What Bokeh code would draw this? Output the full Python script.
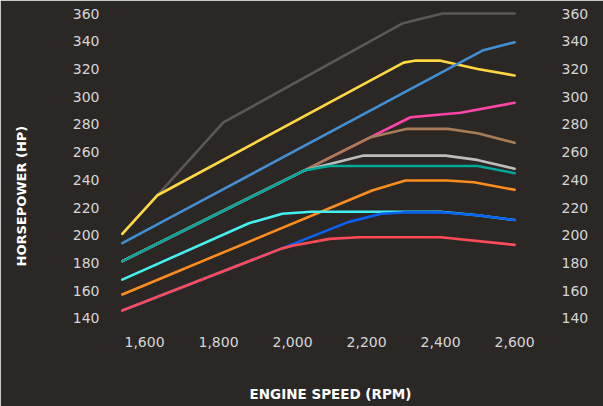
from bokeh.plotting import figure
from bokeh.models import Range1d, LinearAxis, FixedTicker, NumeralTickFormatter, Title
from bokeh.embed import file_html
from bokeh.resources import INLINE

# ---- data (rpm, horsepower) ----
gray_rpm = [1540, 1634, 1813, 2296, 2405, 2600]
gray_hp = [201, 228.7, 281.4, 352.8, 360, 360]

yellow_rpm = [1540, 1634, 2300, 2330, 2400, 2500, 2600]
yellow_hp = [201, 228.7, 324.6, 326, 326, 320, 315.3]

steel_rpm = [1540, 2513, 2600]
steel_hp = [194.3, 333.3, 339.3]

pink_rpm = [1540, 2031, 2211, 2319, 2454, 2600]
pink_hp = [181.3, 246.7, 270.8, 285.2, 288.4, 295.6]

brown_rpm = [1540, 2031, 2211, 2310, 2420, 2500, 2600]
brown_hp = [181.3, 246.7, 270.8, 276.8, 276.8, 273.6, 266.7]

silver_rpm = [1540, 2031, 2192, 2413, 2499, 2600]
silver_hp = [181.3, 246.7, 257.5, 257.5, 254.4, 248]

teal_rpm = [1540, 2031, 2100, 2500, 2600]
teal_hp = [181.3, 246.7, 250, 250, 244.8]

orange_rpm = [1540, 2215, 2305, 2418, 2490, 2600]
orange_hp = [157.3, 232.3, 239.5, 239.5, 238.3, 232.8]

cyan_rpm = [1540, 1882, 1972, 2050, 2400, 2500, 2600]
cyan_hp = [168, 208.7, 215.5, 217, 217, 214.5, 211]

blue_rpm = [1540, 1968, 2150, 2240, 2300, 2410, 2500, 2600]
blue_hp = [145.7, 190.2, 209.5, 215.5, 216.5, 216.5, 214.5, 211]

red_rpm = [1540, 1968, 2000, 2100, 2180, 2400, 2600]
red_hp = [145.7, 190.2, 192.5, 197.4, 198.6, 198.6, 193.1]

x_ticks = [1600, 1800, 2000, 2200, 2400, 2600]
y_ticks = [140, 160, 180, 200, 220, 240, 260, 280, 300, 320, 340, 360]

series = [
    (gray_rpm, gray_hp, "#595959"),
    (yellow_rpm, yellow_hp, "#ffd93f"),
    (steel_rpm, steel_hp, "#3f8fd2"),
    (pink_rpm, pink_hp, "#ff45a9"),
    (brown_rpm, brown_hp, "#a67d57"),
    (silver_rpm, silver_hp, "#bdbdbd"),
    (teal_rpm, teal_hp, "#00a89a"),
    (orange_rpm, orange_hp, "#ff8d1c"),
    (cyan_rpm, cyan_hp, "#45f0f0"),
    (blue_rpm, blue_hp, "#0a62f2"),
    (red_rpm, red_hp, "#ff4a57"),
]

BG = "#2b2725"
FONT = "DejaVu Sans"
TICK_COLOR = "#d6d6d6"

p = figure(width=603, height=406, output_backend="svg", toolbar_location=None,
           x_range=Range1d(1500, 2705), y_range=Range1d(131.3, 362.2),
           min_border_left=107, min_border_right=50, min_border_top=10, min_border_bottom=76,
           background_fill_color=BG, border_fill_color=BG,
           x_axis_location=None, y_axis_location=None)
p.outline_line_color = BG
p.outline_line_width = 3
p.grid.visible = False

for xs, ys, c in series:
    p.line(xs, ys, line_color=c, line_width=2.6, line_join="round", line_cap="round")

def style(ax):
    ax.axis_line_color = None
    ax.major_tick_line_color = None
    ax.minor_tick_line_color = None
    ax.major_tick_out = 0
    ax.major_tick_in = 0
    ax.major_label_text_font = FONT
    ax.major_label_text_font_size = "14px"
    ax.major_label_text_color = TICK_COLOR

xa = LinearAxis(ticker=FixedTicker(ticks=x_ticks), formatter=NumeralTickFormatter(format="0,0"))
style(xa)
xa.major_label_standoff = 6
xa.axis_label = "ENGINE SPEED (RPM)"
xa.axis_label_text_font = FONT
xa.axis_label_text_font_style = "bold"
xa.axis_label_text_font_size = "13.5px"
xa.axis_label_text_color = "#ffffff"
xa.axis_label_standoff = 36
p.add_layout(xa, "below")

ya = LinearAxis(ticker=FixedTicker(ticks=y_ticks))
style(ya)
ya.major_label_standoff = 8
p.add_layout(ya, "left")

ya2 = LinearAxis(ticker=FixedTicker(ticks=y_ticks))
style(ya2)
ya2.major_label_standoff = 8
p.add_layout(ya2, "right")

# spacer panel between the left axis and its title
spacer = Title(text=" ", standoff=24, text_font=FONT, text_font_size="13px",
               text_color=BG)
p.add_layout(spacer, "left")

ytitle = Title(text="HORSEPOWER (HP)", align="left", offset=64, standoff=0,
               text_font=FONT, text_font_style="bold", text_font_size="13px",
               text_color="#ffffff")
p.add_layout(ytitle, "left")

open("out.html", "w").write(file_html(p, INLINE))
